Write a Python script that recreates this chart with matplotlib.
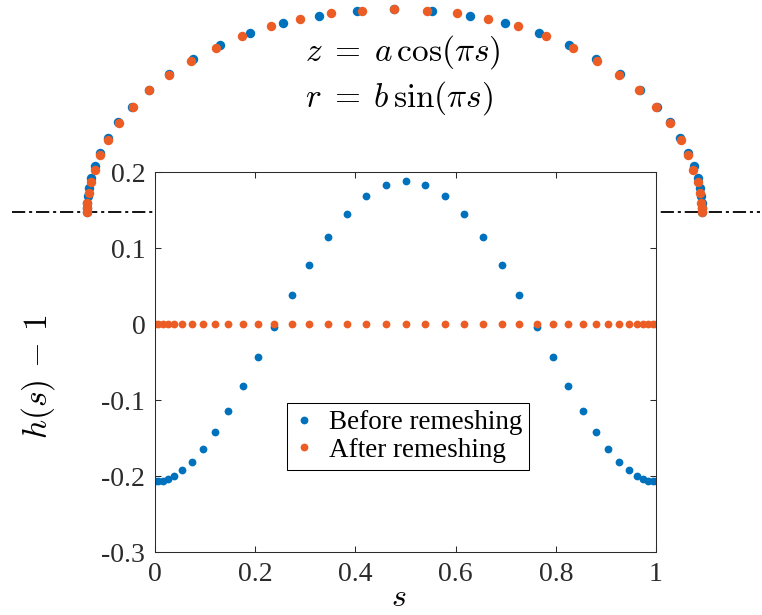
import matplotlib
matplotlib.use('Agg')
import matplotlib.pyplot as plt
from matplotlib.ticker import FuncFormatter

# s positions of the mesh points (same for both series)
s_vals = [0.0, 0.0066, 0.0154, 0.0253, 0.0385, 0.0545, 0.0739, 0.0952, 0.1204, 0.1463,
          0.175, 0.2062, 0.2381, 0.2729, 0.308, 0.3447, 0.3826, 0.4212, 0.4611, 0.5,
          0.5389, 0.5788, 0.6174, 0.6553, 0.692, 0.7271, 0.7619, 0.7938, 0.825, 0.8537,
          0.8796, 0.9048, 0.9261, 0.9455, 0.9615, 0.9747, 0.9846, 0.9934, 1.0]

h_before = [-0.207, -0.207, -0.206, -0.204, -0.200, -0.1925, -0.1811, -0.1649, -0.1425, -0.1149,
            -0.0816, -0.0439, -0.0035, 0.0377, 0.0776, 0.114, 0.145, 0.168, 0.183, 0.188,
            0.183, 0.168, 0.145, 0.114, 0.0776, 0.0377, -0.0035, -0.0439, -0.0816, -0.1149,
            -0.1425, -0.1649, -0.1811, -0.1925, -0.200, -0.204, -0.206, -0.207, -0.207]
h_after = [0.0] * 39

# shape points (z horizontal, r vertical)
arc_before_z = [-1.516, -1.516, -1.514, -1.511, -1.505, -1.494, -1.475, -1.449, -1.409, -1.359,
                -1.293, -1.209, -1.111, -0.992, -0.860, -0.711, -0.547, -0.372, -0.185, 0.000,
                0.185, 0.372, 0.547, 0.711, 0.860, 0.992, 1.111, 1.209, 1.293, 1.359,
                1.409, 1.449, 1.475, 1.494, 1.505, 1.511, 1.514, 1.516, 1.516]
arc_before_r = [0.000, 0.021, 0.048, 0.079, 0.121, 0.170, 0.230, 0.295, 0.369, 0.444,
                0.522, 0.603, 0.680, 0.756, 0.824, 0.883, 0.933, 0.970, 0.993, 1.000,
                0.993, 0.970, 0.933, 0.883, 0.824, 0.756, 0.680, 0.603, 0.522, 0.444,
                0.369, 0.295, 0.230, 0.170, 0.121, 0.079, 0.048, 0.021, 0.000]
arc_after_z = [-1.516, -1.515, -1.512, -1.506, -1.494, -1.473, -1.449, -1.411, -1.358, -1.289,
               -1.207, -1.108, -1.000, -0.879, -0.749, -0.608, -0.464, -0.311, -0.159, 0.000,
               0.159, 0.311, 0.464, 0.608, 0.749, 0.879, 1.000, 1.108, 1.207, 1.289,
               1.358, 1.411, 1.449, 1.473, 1.494, 1.506, 1.512, 1.515, 1.516]
arc_after_r = [0.002, 0.022, 0.047, 0.095, 0.148, 0.209, 0.281, 0.357, 0.439, 0.520,
               0.602, 0.677, 0.748, 0.812, 0.869, 0.917, 0.955, 0.981, 0.995, 1.001,
               0.995, 0.981, 0.955, 0.917, 0.869, 0.812, 0.748, 0.677, 0.602, 0.520,
               0.439, 0.357, 0.281, 0.209, 0.148, 0.095, 0.047, 0.022, 0.002]

labels = ['Before remeshing', 'After remeshing']
x_ticks = [0, 0.2, 0.4, 0.6, 0.8, 1]
y_ticks = [-0.3, -0.2, -0.1, 0, 0.1, 0.2]

blue = '#0072BD'
orange = '#EC5D25'
axcol = '#2b2b2b'

plt.rcParams['font.family'] = ['Liberation Serif', 'DejaVu Serif']
plt.rcParams['mathtext.fontset'] = 'cm'
plt.rcParams['axes.unicode_minus'] = False
plt.rcParams['lines.scale_dashes'] = False

W, H = 762, 615
fig = plt.figure(figsize=(W / 100, H / 100), dpi=100)
fig.patch.set_facecolor('white')

# background axes for the shape sketch, 203 px per unit, origin at (394.3, 212.5) px
ax_arc = fig.add_axes([0, 0, 1, 1], zorder=0)
ax_arc.set_xlim(-394.3 / 203, (W - 394.3) / 203)
ax_arc.set_ylim((212.5 - H) / 203, 212.5 / 203)
ax_arc.axis('off')
ax_arc.axhline(0, xmin=12 / W, xmax=760 / W, color='black', lw=1.3,
               linestyle=(0, (9.5, 2.8, 2.2, 2.8)), zorder=1)
ax_arc.plot(arc_before_z, arc_before_r, 'o', color=blue, ms=6.8, mew=0, zorder=2)
ax_arc.plot(arc_after_z, arc_after_r, 'o', color=orange, ms=6.8, mew=0, zorder=3)

# main axes
ax = fig.add_axes([155 / W, (H - 552) / H, 501 / W, 380 / H], zorder=1)
ax.set_facecolor('white')
ax.plot(s_vals, h_before, 'o', color=blue, ms=5.6, mew=0, label=labels[0])
ax.plot(s_vals, h_after, 'o', color=orange, ms=5.6, mew=0, label=labels[1])
ax.set_xlim(0, 1)
ax.set_ylim(-0.3, 0.2)
ax.set_xticks(x_ticks)
ax.set_yticks(y_ticks)
fmt = FuncFormatter(lambda v, p: '0' if abs(v) < 1e-9 else '%g' % v)
ax.xaxis.set_major_formatter(fmt)
ax.yaxis.set_major_formatter(fmt)
ax.tick_params(direction='in', top=True, right=True, length=4, width=0.75,
               colors=axcol, labelsize=20, pad=7)
for sp in ax.spines.values():
    sp.set_color(axcol)
    sp.set_linewidth(0.75)

leg = ax.legend(loc='upper left', bbox_to_anchor=(286.7 / W, 1 - 403.3 / H),
                bbox_transform=fig.transFigure, borderaxespad=0, fontsize=19.5,
                frameon=True, fancybox=False, framealpha=1, edgecolor='black',
                handlelength=0.8, handletextpad=0.5, labelspacing=0.1,
                borderpad=0.25, numpoints=1)
leg.get_frame().set_linewidth(0.75)

fig.text(38 / W, 1 - 377 / H, r'$h(s)\,-\,1$', rotation=90, ha='center', va='center', fontsize=24)
fig.text(399 / W, 1 - 598 / H, r'$s$', ha='center', va='center', fontsize=23)
fig.text(305 / W, 1 - 52 / H, r'$z\;=\;a\,\cos(\pi s)$', ha='left', va='center', fontsize=24)
fig.text(305 / W, 1 - 98 / H, r'$r\;=\;b\,\sin(\pi s)$', ha='left', va='center', fontsize=24)

fig.savefig('out.png', dpi=100)
